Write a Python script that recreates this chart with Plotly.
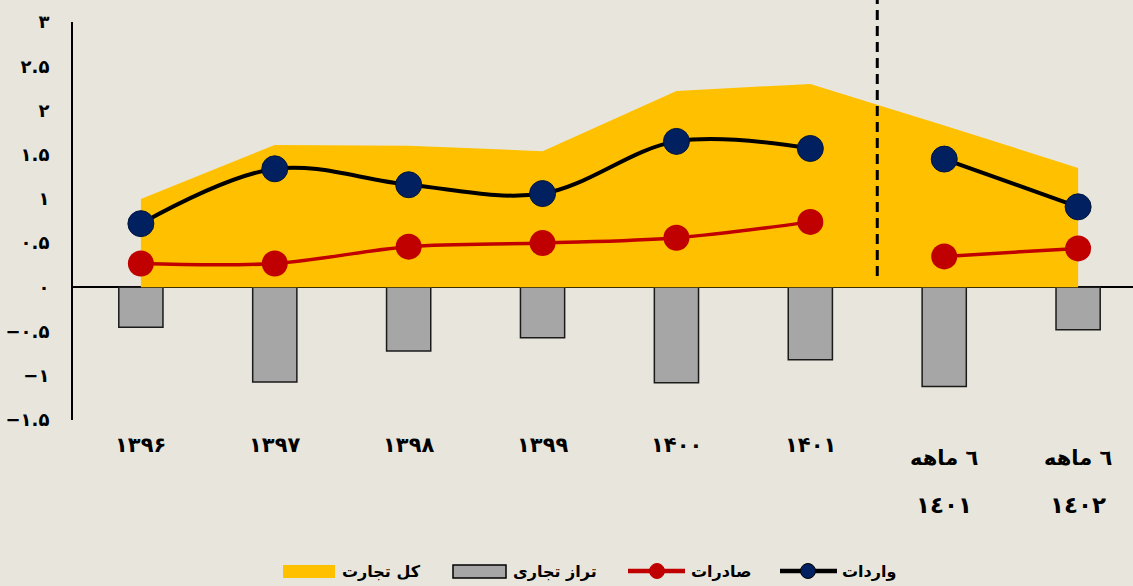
import plotly.graph_objects as go

# ---- data ----
categories = ["۱۳۹۶", "۱۳۹۷", "۱۳۹۸", "۱۳۹۹", "۱۴۰۰", "۱۴۰۱",
              "٦ ماهه<br>١٤٠١", "٦ ماهه<br>١٤٠٢"]
total_trade = [1.00, 1.61, 1.60, 1.54, 2.22, 2.30, 1.83, 1.35]
trade_balance = [-0.45, -1.07, -0.72, -0.57, -1.08, -0.82, -1.12, -0.48]
exports = [0.27, 0.27, 0.46, 0.50, 0.56, 0.74, 0.35, 0.44]
imports = [0.72, 1.34, 1.16, 1.06, 1.65, 1.57, 1.45, 0.91]
y_tick_vals = [-1.5, -1, -0.5, 0, 0.5, 1, 1.5, 2, 2.5, 3]
y_tick_text = ["−۱.۵", "−۱", "−۰.۵", "۰", "۰.۵", "۱", "۱.۵", "۲", "۲.۵", "۳"]
series_names = ["کل تجارت", "تراز تجاری", "صادرات", "واردات"]
n_annual = 6

FONT = "DejaVu Sans"
BG = "#E8E6DC"
YELLOW, GRAY, RED, NAVY = "#FFC000", "#A6A6A6", "#C00000", "#002060"
W, H = 1133, 586
ML, MR, MT, MB = 73, 0, 22, 166

x = list(range(len(categories)))
xa, xh = x[:n_annual], x[n_annual:]

fig = go.Figure()
fig.add_trace(go.Scatter(x=x, y=total_trade, mode="lines", name=series_names[0],
                         line=dict(width=0, color=YELLOW), fill="tozeroy",
                         fillcolor=YELLOW))
fig.add_trace(go.Bar(x=x, y=trade_balance, name=series_names[1], width=0.33,
                     marker=dict(color=GRAY, line=dict(color="#1a1a1a", width=1.5))))
for seg_x in (xa, xh):
    fig.add_trace(go.Scatter(x=seg_x, y=[exports[i] for i in seg_x], mode="lines+markers",
                             name=series_names[2],
                             line=dict(color=RED, width=3.5, shape="spline"),
                             marker=dict(color=RED, size=26)))
for seg_x in (xa, xh):
    fig.add_trace(go.Scatter(x=seg_x, y=[imports[i] for i in seg_x], mode="lines+markers",
                             name=series_names[3],
                             line=dict(color="#000000", width=4, shape="spline"),
                             marker=dict(color=NAVY, size=26,
                                         line=dict(color="#00143d", width=1))))

# separator between annual and half-year data
fig.add_shape(type="line", xref="x", yref="y domain", x0=n_annual - 0.5, x1=n_annual - 0.5,
              y0=0.362, y1=1.06, line=dict(color="black", width=3, dash="10px,6px"))

# category labels under the axis
for i, lab in enumerate(categories):
    lines = lab.split("<br>")
    if len(lines) == 1:
        fig.add_annotation(x=i, xref="x", y=0, yref="paper", yanchor="middle", yshift=-25,
                           text=lines[0], showarrow=False,
                           font=dict(family=FONT, size=21, color="black", weight=700))
    else:
        for k, (ln, sh, fs) in enumerate(zip(lines, (-38, -85), (21, 23))):
            fig.add_annotation(x=i, xref="x", y=0, yref="paper", yanchor="middle", yshift=sh,
                               text=ln, showarrow=False,
                               font=dict(family=FONT, size=fs, color="black", weight=700))

# ---- custom legend (pixel positions converted to paper coords) ----
pw, ph = W - ML - MR, H - MT - MB
def px(X):
    return (X - ML) / pw
def py(Y):
    return (H - MB - Y) / ph

LEG_Y = 571
leg_font = dict(family=FONT, size=16, color="black", weight=700)
# swatch boxes
fig.add_shape(type="rect", xref="paper", yref="paper", x0=px(283), x1=px(335),
              y0=py(578), y1=py(565), fillcolor=YELLOW, line=dict(width=0))
fig.add_shape(type="rect", xref="paper", yref="paper", x0=px(453), x1=px(506),
              y0=py(578), y1=py(565), fillcolor=GRAY, line=dict(color="black", width=1.5))
# line + marker symbols
for x0, x1, cx, lc, mc in ((628, 685, 657, RED, RED), (780, 837, 808, "#000000", NAVY)):
    fig.add_shape(type="line", xref="paper", yref="paper", x0=px(x0), x1=px(x1),
                  y0=py(LEG_Y), y1=py(LEG_Y), line=dict(color=lc, width=4.5))
    fig.add_shape(type="circle", xref="paper", yref="paper", x0=px(cx - 7.5), x1=px(cx + 7.5),
                  y0=py(LEG_Y + 7.5), y1=py(LEG_Y - 7.5), fillcolor=mc,
                  line=dict(color=lc if lc != RED else RED, width=1))
for name, tx in zip(series_names, (340, 511, 689, 840)):
    fig.add_annotation(xref="paper", yref="paper", x=px(tx), y=py(LEG_Y), xanchor="left",
                       yanchor="middle", text=name, showarrow=False, font=leg_font)

fig.update_layout(
    width=W, height=H, paper_bgcolor=BG, plot_bgcolor=BG,
    margin=dict(l=ML, r=MR, t=MT, b=MB),
    barmode="overlay", showlegend=False,
    font=dict(family=FONT, color="black"),
    xaxis=dict(range=[-0.507, 7.41], showticklabels=False, showgrid=False,
               zeroline=False, showline=False, fixedrange=True),
    yaxis=dict(range=[-1.5, 3], tickvals=y_tick_vals, ticktext=y_tick_text,
               showgrid=False, zeroline=True, zerolinecolor="black", zerolinewidth=1.5,
               showline=True, linecolor="black", linewidth=2, ticks="",
               ticklabelstandoff=18, automargin=False,
               tickfont=dict(family=FONT, size=18, color="black", weight=700)),
)

fig.write_html("out.html", config={"displayModeBar": False},
               post_script="document.body.style.margin='0';")
